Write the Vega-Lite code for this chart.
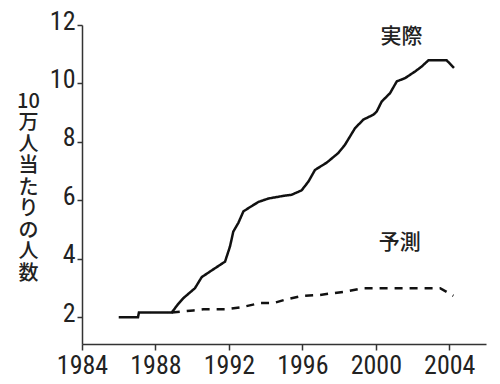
{
  "$schema": "https://vega.github.io/schema/vega-lite/v6.json",
  "width": 404,
  "height": 319,
  "autosize": "none",
  "padding": {"left": 82, "top": 25, "right": 14, "bottom": 40},
  "background": "white",
  "config": {
    "view": {"stroke": null},
    "axis": {
      "grid": false,
      "domainColor": "#333",
      "domainWidth": 1.5,
      "tickColor": "#333",
      "tickWidth": 1.5,
      "labelFont": "Liberation Sans Narrow, Roboto Condensed, Roboto",
      "labelFontSize": 26,
      "labelColor": "#222"
    }
  },
  "datasets": {
    "lines": [
      {"year": 1986.0, "value": 2.0, "series": "実際"},
      {"year": 1987.05, "value": 2.0, "series": "実際"},
      {"year": 1987.1, "value": 2.16, "series": "実際"},
      {"year": 1988.89, "value": 2.16, "series": "実際"},
      {"year": 1989.2, "value": 2.42, "series": "実際"},
      {"year": 1989.52, "value": 2.65, "series": "実際"},
      {"year": 1990.15, "value": 2.99, "series": "実際"},
      {"year": 1990.52, "value": 3.37, "series": "実際"},
      {"year": 1990.97, "value": 3.56, "series": "実際"},
      {"year": 1991.79, "value": 3.9, "series": "実際"},
      {"year": 1992.06, "value": 4.42, "series": "実際"},
      {"year": 1992.24, "value": 4.93, "series": "実際"},
      {"year": 1992.51, "value": 5.22, "series": "実際"},
      {"year": 1992.79, "value": 5.62, "series": "実際"},
      {"year": 1993.06, "value": 5.73, "series": "実際"},
      {"year": 1993.6, "value": 5.94, "series": "実際"},
      {"year": 1994.15, "value": 6.06, "series": "実際"},
      {"year": 1994.96, "value": 6.15, "series": "実際"},
      {"year": 1995.42, "value": 6.19, "series": "実際"},
      {"year": 1995.96, "value": 6.34, "series": "実際"},
      {"year": 1996.33, "value": 6.64, "series": "実際"},
      {"year": 1996.69, "value": 7.04, "series": "実際"},
      {"year": 1997.33, "value": 7.29, "series": "実際"},
      {"year": 1997.96, "value": 7.62, "series": "実際"},
      {"year": 1998.32, "value": 7.9, "series": "実際"},
      {"year": 1998.87, "value": 8.47, "series": "実際"},
      {"year": 1999.32, "value": 8.76, "series": "実際"},
      {"year": 1999.87, "value": 8.93, "series": "実際"},
      {"year": 2000.05, "value": 9.04, "series": "実際"},
      {"year": 2000.32, "value": 9.38, "series": "実際"},
      {"year": 2000.78, "value": 9.67, "series": "実際"},
      {"year": 2001.14, "value": 10.07, "series": "実際"},
      {"year": 2001.59, "value": 10.18, "series": "実際"},
      {"year": 2002.14, "value": 10.41, "series": "実際"},
      {"year": 2002.5, "value": 10.58, "series": "実際"},
      {"year": 2002.86, "value": 10.79, "series": "実際"},
      {"year": 2003.86, "value": 10.79, "series": "実際"},
      {"year": 2004.26, "value": 10.53, "series": "実際"},
      {"year": 1988.89, "value": 2.16, "series": "予測"},
      {"year": 1990.06, "value": 2.23, "series": "予測"},
      {"year": 1990.61, "value": 2.27, "series": "予測"},
      {"year": 1991.88, "value": 2.27, "series": "予測"},
      {"year": 1992.61, "value": 2.33, "series": "予測"},
      {"year": 1993.69, "value": 2.48, "series": "予測"},
      {"year": 1994.42, "value": 2.48, "series": "予測"},
      {"year": 1995.2, "value": 2.62, "series": "予測"},
      {"year": 1996.05, "value": 2.73, "series": "予測"},
      {"year": 1996.96, "value": 2.76, "series": "予測"},
      {"year": 1998.41, "value": 2.88, "series": "予測"},
      {"year": 1999.33, "value": 2.99, "series": "予測"},
      {"year": 2003.5, "value": 2.99, "series": "予測"},
      {"year": 2004.22, "value": 2.73, "series": "予測"}
    ],
    "labels": [
      {"year": 2001.4, "value": 11.59, "label": "実際"},
      {"year": 2001.3, "value": 4.53, "label": "予測"}
    ]
  },
  "layer": [
    {
      "data": {"name": "lines"},
      "mark": {"type": "line", "color": "#111", "strokeWidth": 2.5, "strokeCap": "butt"},
      "encoding": {
        "x": {
          "field": "year", "type": "quantitative",
          "scale": {"domain": [1984, 2006], "nice": false, "zero": false},
          "axis": {
            "title": null,
            "values": [1984, 1986, 1988, 1990, 1992, 1994, 1996, 1998, 2000, 2002, 2004, 2006],
            "format": "d",
            "labelExpr": "datum.value % 4 == 0 ? datum.label : ''",
            "tickSize": 6,
            "labelPadding": 2,
            "labelFlush": false
          }
        },
        "y": {
          "field": "value", "type": "quantitative",
          "scale": {"domain": [1.08, 12], "nice": false, "zero": false},
          "axis": {
            "values": [2, 4, 6, 8, 10, 12],
            "tickSize": 5,
            "labelPadding": 2,
            "labelOffset": -4,
            "labelFlush": false,
            "title": ["10", "万", "人", "当", "た", "り", "の", "人", "数"],
            "titleAngle": 0,
            "titleFont": "Noto Sans CJK JP",
            "titleFontWeight": 500,
            "titleFontSize": 20,
            "titleLineHeight": 21.5,
            "titleColor": "#222",
            "titleAlign": "center",
            "titleBaseline": "top",
            "titleX": -54,
            "titleY": 66
          }
        },
        "detail": {"field": "series"},
        "strokeDash": {
          "field": "series", "type": "nominal",
          "scale": {"domain": ["実際", "予測"], "range": [[1, 0], [8, 7]]},
          "legend": null
        }
      }
    },
    {
      "data": {"name": "labels"},
      "mark": {"type": "text", "font": "Noto Sans CJK JP", "fontWeight": 500, "fontSize": 21, "color": "#222", "align": "center", "baseline": "middle"},
      "encoding": {
        "x": {"field": "year", "type": "quantitative"},
        "y": {"field": "value", "type": "quantitative"},
        "text": {"field": "label"}
      }
    }
  ]
}
